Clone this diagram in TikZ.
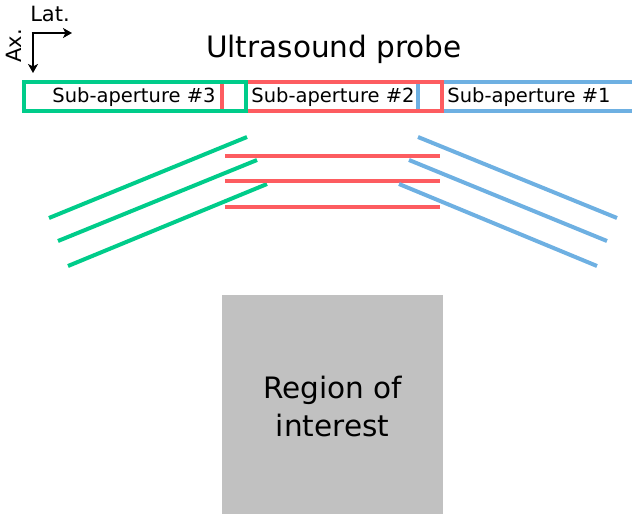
\documentclass[tikz,border=0pt]{standalone}
\usepackage{fontspec}
\setmainfont{DejaVu Sans}
\usetikzlibrary{arrows.meta}
\definecolor{cgreen}{RGB}{0,204,138}
\definecolor{cred}{RGB}{253,92,96}
\definecolor{cblue}{RGB}{110,176,226}
\definecolor{cgray}{RGB}{193,193,193}
\begin{document}
\begin{tikzpicture}[x=1pt,y=-1pt,
  apbox/.style={line width=3.5pt},
  wave/.style={line width=4pt},
  axarrow/.style={line width=2.8pt,-{Stealth[length=9pt,width=10pt,inset=2.5pt]}},
  lbl/.style={inner sep=0pt, font=\fontsize{19.5}{22}\selectfont},
  every node/.style={inner sep=0pt}]
\useasboundingbox (0,0) rectangle (632,514);
% axes
\coordinate (o) at (33,33);
\coordinate (latend) at (72,33);
\coordinate (axend) at (33,73);
\draw[axarrow] ([xshift=-1.4pt]o) -- (latend);
\draw[axarrow] (o) -- (axend);
\node[font=\fontsize{21}{24}\selectfont] (lat) at (50,14) {Lat.};
\node[font=\fontsize{21}{24}\selectfont, rotate=90] (ax) at (14,46) {Ax.};
% title
\node[font=\fontsize{29.5}{34}\selectfont] (title) at (334,49) {Ultrasound probe};
% sub-aperture boxes
\draw[apbox, cblue] (418,82) rectangle (645,111);
\draw[apbox, cred] (222,82) rectangle (442,111);
\draw[apbox, cgreen] (24,82) rectangle (246,111);
\node[lbl] (s3) at (134,97) {Sub-aperture \#3};
\node[lbl] (s2) at (333,97) {Sub-aperture \#2};
\node[lbl] (s1) at (529,97) {Sub-aperture \#1};
% plane waves
\draw[wave, cgreen] (49,218) -- (247,137);
\draw[wave, cgreen] (58,241) -- (257,160);
\draw[wave, cgreen] (68,266) -- (267,184);
\draw[wave, cred] (225,156) -- (440,156);
\draw[wave, cred] (225,181) -- (440,181);
\draw[wave, cred] (225,207) -- (440,207);
\draw[wave, cblue] (418,137) -- (617,218);
\draw[wave, cblue] (409,160) -- (607,241);
\draw[wave, cblue] (399,184) -- (597,266);
% region of interest
\fill[cgray] (222,295) rectangle (443,514);
\node[font=\fontsize{29.5}{38}\selectfont, align=center] (roi) at (332.5,406) {Region of\\interest};
\end{tikzpicture}
\end{document}
